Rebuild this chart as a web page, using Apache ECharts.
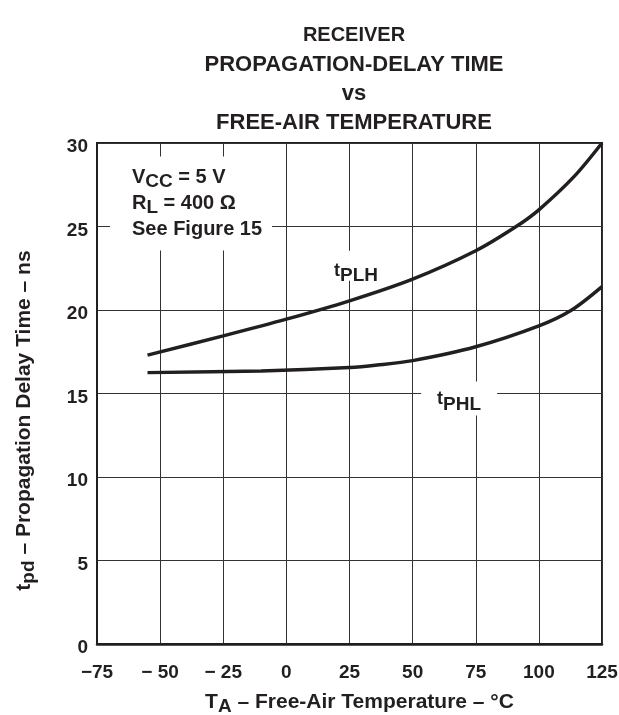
<!DOCTYPE html>
<html>
<head>
<meta charset="utf-8">
<script src="https://cdn.jsdelivr.net/npm/echarts@6/dist/echarts.min.js"></script>
<style>
  html, body { margin: 0; padding: 0; background: #fff; }
  #chart { width: 619px; height: 715px; }
</style>
</head>
<body>
<div id="chart"></div>
<script>
// tPLH curve (°C, ns)
const plhTemp = [-55, -25, 0, 25, 50, 75, 91, 100, 114, 125];
const plhDelay = [17.3, 18.45, 19.45, 20.55, 21.85, 23.55, 25, 26, 28, 30];
// tPHL curve
const phlTemp = [-55, -10, 25, 36, 50, 75, 100, 113, 125];
const phlDelay = [16.25, 16.35, 16.55, 16.7, 16.97, 17.8, 19.05, 20, 21.4];

const xTickLabels = ['−75', '− 50', '− 25', '0', '25', '50', '75', '100', '125'];
const yTickLabels = ['0', '5', '10', '15', '20', '25', '30'];

const FONT = '"Liberation Sans", Arial, Helvetica, sans-serif';
const INK = '#231f20';

const chart = echarts.init(document.getElementById('chart'));

const toPairs = (xs, ys) => xs.map((x, i) => [x, ys[i]]);

const option = {
  animation: false,
  backgroundColor: '#fff',
  textStyle: { fontFamily: FONT, color: INK },
  title: {
    text: '{a|RECEIVER}\n{b|PROPAGATION-DELAY TIME}\n{b|vs}\n{b|FREE-AIR TEMPERATURE}',
    left: 349,
    top: 16,
    textAlign: 'center',
    textStyle: {
      rich: {
        a: { fontFamily: FONT, fontSize: 20, fontWeight: 'bold', color: INK, lineHeight: 29 },
        b: { fontFamily: FONT, fontSize: 22, fontWeight: 'bold', color: INK, lineHeight: 29 },
      },
    },
  },
  grid: {
    left: 97,
    right: 17,
    top: 143,
    bottom: 71,
    outerBoundsMode: 'none',
    containLabel: false,
    show: true,
    borderColor: INK,
    borderWidth: 2,
  },
  xAxis: {
    type: 'value',
    min: -75,
    max: 125,
    interval: 25,
    name: '{n|T}{s|A}{n| – Free-Air Temperature – °C}',
    nameLocation: 'middle',
    nameGap: 47,
    nameTextStyle: {
      padding: [0, 0, 0, 20],
      rich: {
        n: { fontFamily: FONT, fontSize: 21, fontWeight: 'bold', color: INK, lineHeight: 22 },
        s: { fontFamily: FONT, fontSize: 19, fontWeight: 'bold', color: INK, lineHeight: 16, padding: [9, 0, 0, 0] },
      },
    },
    axisLine: { show: true, lineStyle: { color: INK, width: 2.5 } },
    axisTick: { show: false },
    splitLine: { show: true, lineStyle: { color: '#333', width: 1 } },
    axisLabel: {
      margin: 19,
      fontFamily: FONT,
      fontSize: 19,
      fontWeight: 'bold',
      color: INK,
      formatter: (v) => xTickLabels[Math.round((v + 75) / 25)],
    },
  },
  yAxis: {
    type: 'value',
    min: 0,
    max: 30,
    interval: 5,
    name: '{n|t}{s|pd}{n| – Propagation Delay Time – ns}',
    nameLocation: 'middle',
    nameRotate: 90,
    nameGap: 62,
    nameTextStyle: {
      padding: [0, 54, 0, 0],
      rich: {
        n: { fontFamily: FONT, fontSize: 21, fontWeight: 'bold', color: INK, lineHeight: 22 },
        s: { fontFamily: FONT, fontSize: 19, fontWeight: 'bold', color: INK, lineHeight: 16, padding: [9, 0, 0, 0] },
      },
    },
    axisLine: { show: true, onZero: false, lineStyle: { color: INK, width: 2 } },
    axisTick: { show: false },
    splitLine: { show: true, lineStyle: { color: '#333', width: 1 } },
    axisLabel: {
      margin: 9,
      formatter: (v) => '{v|' + yTickLabels[Math.round(v / 5)] + '}',
      rich: {
        v: { fontFamily: FONT, fontSize: 19, fontWeight: 'bold', color: INK, lineHeight: 20, padding: [8, 0, 0, 0] },
      },
    },
  },
  series: [
    {
      name: 'tPLH',
      type: 'line',
      data: toPairs(plhTemp, plhDelay),
      smooth: 0.3,
      symbol: 'none',
      lineStyle: { color: INK, width: 3.5 },
      z: 3,
      markPoint: {
        symbol: 'rect',
        symbolSize: 0,
        silent: true,
        data: [
          {
            coord: [26.4, 22.65],
            label: {
              show: true,
              position: 'inside',
              backgroundColor: '#fff',
              padding: [10, 6, 0, 12],
              formatter: '{t|t}{s|PLH}',
              rich: {
                t: { fontFamily: FONT, fontSize: 18, fontWeight: 'bold', color: INK, lineHeight: 20 },
                s: { fontFamily: FONT, fontSize: 19, fontWeight: 'bold', color: INK, lineHeight: 14, padding: [10, 0, 0, 0] },
              },
            },
          },
          {
            coord: [-69.85, 26.38],
            label: {
              show: true,
              position: 'right',
              distance: 0,
              align: 'left',
              backgroundColor: '#fff',
              padding: [8, 10, 8, 22],
              formatter: '{n|V}{s|CC}{n| = 5 V}\n{n|R}{s|L}{n| = 400 Ω}\n{n|See Figure 15}',
              rich: {
                n: { fontFamily: FONT, fontSize: 20, fontWeight: 'bold', color: INK, lineHeight: 26 },
                s: { fontFamily: FONT, fontSize: 19, fontWeight: 'bold', color: INK, lineHeight: 14, padding: [9, 0, 0, 0] },
              },
            },
          },
        ],
      },
    },
    {
      name: 'tPHL',
      type: 'line',
      data: toPairs(phlTemp, phlDelay),
      smooth: 0.3,
      symbol: 'none',
      lineStyle: { color: INK, width: 3.5 },
      z: 3,
      markPoint: {
        symbol: 'rect',
        symbolSize: 0,
        silent: true,
        data: [
          {
            coord: [68.4, 14.7],
            label: {
              show: true,
              position: 'inside',
              backgroundColor: '#fff',
              padding: [8, 16, 6, 16],
              formatter: '{t|t}{s|PHL}',
              rich: {
                t: { fontFamily: FONT, fontSize: 18, fontWeight: 'bold', color: INK, lineHeight: 20 },
                s: { fontFamily: FONT, fontSize: 19, fontWeight: 'bold', color: INK, lineHeight: 14, padding: [10, 0, 0, 0] },
              },
            },
          },
        ],
      },
    },
  ],
};

chart.setOption(option);
</script>
</body>
</html>
